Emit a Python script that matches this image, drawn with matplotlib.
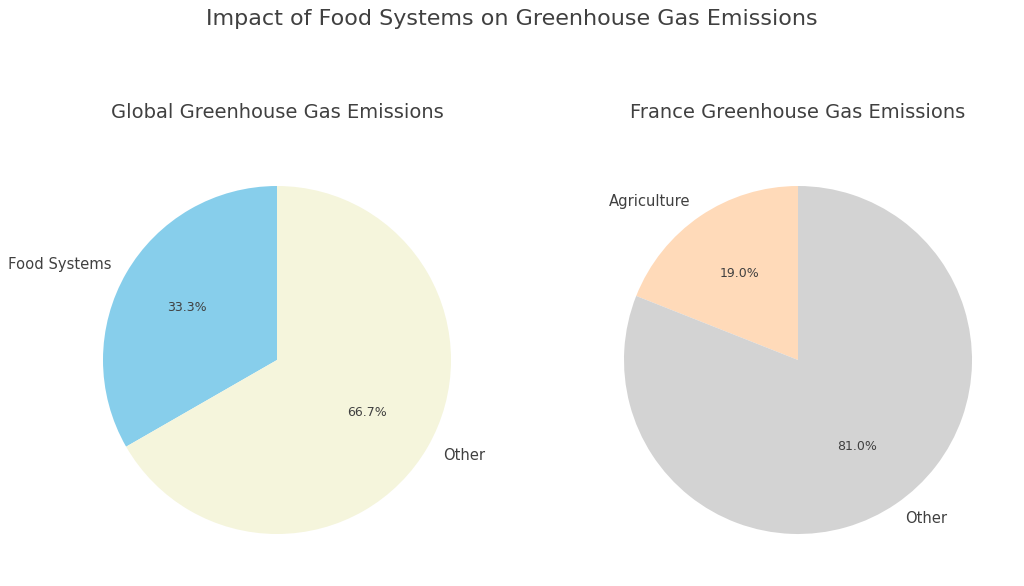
import matplotlib.pyplot as plt

global_labels = ["Food Systems", "Other"]
global_values = [33.3, 66.7]
france_labels = ["Agriculture", "Other"]
france_values = [19.0, 81.0]

tc = "#404040"
W, H = 1024, 586
fig = plt.figure(figsize=(10.24, 5.86), dpi=100)
r = 174
for cx, labels, vals, cols, title in [
    (277, global_labels, global_values, ["skyblue", "beige"], "Global Greenhouse Gas Emissions"),
    (798, france_labels, france_values, ["peachpuff", "lightgray"], "France Greenhouse Gas Emissions"),
]:
    ax = fig.add_axes([(cx - r) / W, (H - 360 - r) / H, 2 * r / W, 2 * r / H])
    w, t, a = ax.pie(vals, labels=labels, colors=cols, autopct="%1.1f%%", startangle=90,
                     textprops={"fontsize": 10.6, "color": tc})
    for x in t:
        x.set_clip_on(False)
    for x in a:
        x.set_fontsize(9)
    ax.set_xlim(-1, 1)
    ax.set_ylim(-1, 1)
    ax.set_title(title, fontsize=14, color=tc, pad=49)
fig.text(0.5, 1 - 19 / H, "Impact of Food Systems on Greenhouse Gas Emissions",
         fontsize=16, color=tc, ha="center", va="center")
fig.savefig("out.png")
